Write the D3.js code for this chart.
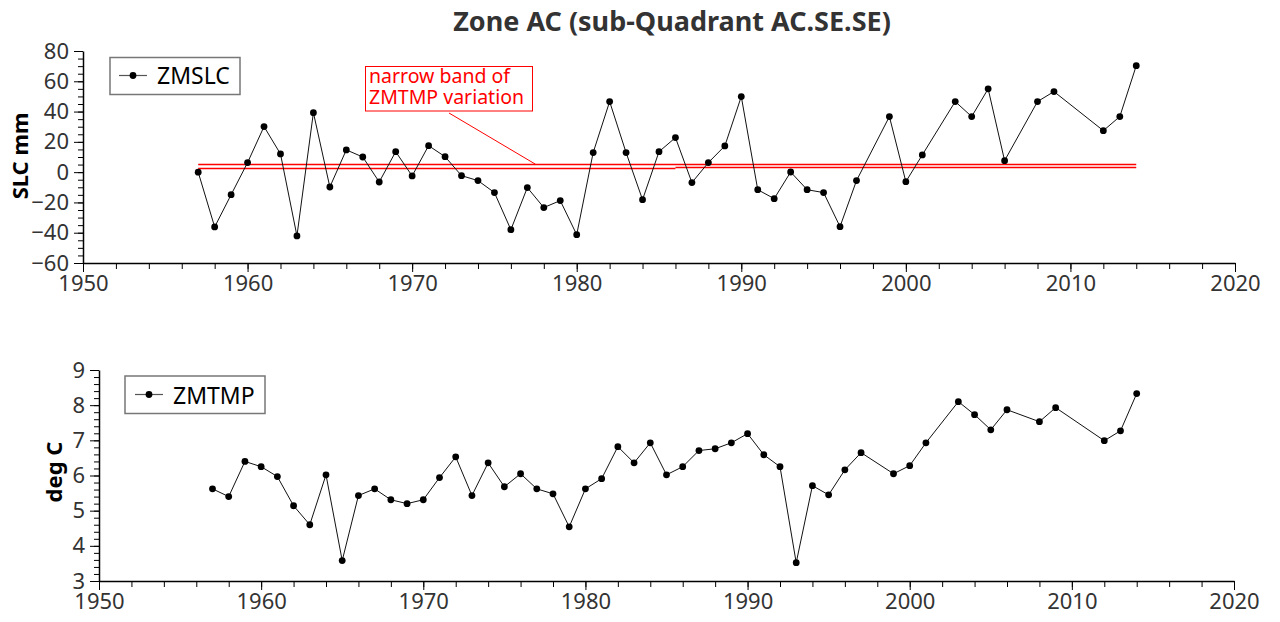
<!DOCTYPE html>
<html><head><meta charset="utf-8">
<script src="https://cdn.jsdelivr.net/npm/d3@7/dist/d3.min.js"></script>
<style>body{margin:0;background:#fff}svg{display:block}</style>
</head><body>
<svg id="chart" width="1280" height="622"></svg>
<script>
const years = [1957,1958,1959,1960,1961,1962,1963,1964,1965,1966,1967,1968,1969,1970,
  1971,1972,1973,1974,1975,1976,1977,1978,1979,1980,1981,1982,1983,1984,1985,1986,1987,1988,1989,1990,
  1991,1992,1993,1994,1995,1996,1997,1999,2000,2001,2003,2004,2005,2006,2008,2009,2012,2013,2014];
const zmslc = [0,-36.2,-14.9,6.3,30.1,12.0,-42.1,39.3,-9.8,14.7,10.0,-6.5,13.5,-2.5,
  17.5,10.2,-2.3,-5.6,-13.5,-38.0,-10.2,-23.4,-18.8,-41.3,12.9,46.6,12.9,-18.2,13.5,22.8,-6.9,6.3,17.3,49.9,
  -11.6,-17.5,0.1,-11.6,-13.5,-36.0,-5.6,36.7,-6.3,11.4,46.6,36.7,55.0,7.6,46.6,53.2,27.4,36.7,70.3];
const zmtmp = [5.62,5.40,6.40,6.25,5.97,5.14,4.60,6.02,3.58,5.43,5.62,5.31,5.20,5.31,
  5.94,6.53,5.43,6.36,5.68,6.05,5.62,5.48,4.54,5.62,5.91,6.82,6.36,6.93,6.02,6.25,6.71,6.76,6.93,7.19,
  6.59,6.25,3.52,5.71,5.45,6.16,6.65,6.05,6.28,6.93,8.10,7.73,7.30,7.87,7.53,7.93,6.99,7.27,8.33];
// red band segments: start year, end year, value in SLC units
const bandStart = [1957, 1957, 1986];
const bandEnd   = [2014, 1986, 2014];
const bandValue = [5.2, 3.0, 3.6];
const xTicks = [1950,1960,1970,1980,1990,2000,2010,2020];
const slcTicks = [-60,-40,-20,0,20,40,60,80];
const tmpTicks = [3,4,5,6,7,8,9];
const titleText = "Zone AC (sub-Quadrant AC.SE.SE)";
const annotLines = ["narrow band of", "ZMTMP variation"];

const svg = d3.select("#chart");
const FONT = "'Noto Sans', 'Open Sans', sans-serif";

svg.append("text").attr("x", 672).attr("y", 31).attr("text-anchor","middle")
  .attr("font-family", FONT).attr("font-weight","bold").attr("font-size", 27)
  .attr("fill","#333").text(titleText);

function panel(cfg){
  const g = svg.append("g");
  const x = d3.scaleLinear().domain([1950,2020]).range(cfg.xr);
  const y = d3.scaleLinear().domain(cfg.yd).range(cfg.yr);
  g.append("g").attr("transform",`translate(0,${cfg.yr[0]})`)
    .call(d3.axisBottom(x).tickValues(d3.range(1950,2021,2)).tickSize(6).tickFormat(""))
    .call(a=>a.select(".domain").remove());
  g.append("g").attr("transform",`translate(${cfg.xr[0]},0)`)
    .call(d3.axisLeft(y).tickValues(cfg.minor).tickSize(5).tickFormat(""))
    .call(a=>a.select(".domain").remove());
  const xa = g.append("g").attr("transform",`translate(0,${cfg.yr[0]})`)
    .call(d3.axisBottom(x).tickValues(xTicks).tickSize(9).tickSizeOuter(0).tickPadding(3).tickFormat(d3.format("d")));
  const ya = g.append("g").attr("transform",`translate(${cfg.xr[0]},0)`)
    .call(d3.axisLeft(y).tickValues(cfg.ticks).tickSize(9).tickSizeOuter(0).tickPadding(5).tickFormat(d3.format("d")));
  [xa, ya].forEach(a=>{
    a.attr("font-size",null).attr("font-family",null);
    a.selectAll("text").attr("font-family",FONT).attr("font-size",22).attr("fill","#333");
    a.select(".domain").attr("stroke","#000").attr("stroke-width",1.5);
  });
  g.selectAll(".tick line").attr("stroke","#000").attr("stroke-width",1);
  g.append("text").attr("transform",`translate(${cfg.lx},${cfg.ly}) rotate(-90)`)
    .attr("text-anchor","middle").attr("dominant-baseline","central")
    .attr("font-family",FONT).attr("font-weight","bold").attr("font-size",22)
    .attr("fill","#000").text(cfg.label);
  return {g,x,y};
}

const pTop = panel({xr:[83,1235], yr:[263,51], yd:[-60,80], ticks:slcTicks,
  minor:d3.range(-60,81,5), label:"SLC mm", lx:19, ly:156});
const pBot = panel({xr:[99,1234], yr:[581,370], yd:[3,9], ticks:tmpTicks,
  minor:d3.range(3,9.01,0.2), label:"deg C", lx:53, ly:472});

pTop.g.selectAll(".band").data(bandValue).join("line")
  .attr("x1",(d,i)=>pTop.x(bandStart[i])).attr("x2",(d,i)=>pTop.x(bandEnd[i]))
  .attr("y1",d=>Math.round(pTop.y(d))+0.5).attr("y2",d=>Math.round(pTop.y(d))+0.5)
  .attr("stroke","#ff0000").attr("stroke-width",1.3);

function series(p, vals){
  const pts = years.map((yr,i)=>[p.x(yr), p.y(vals[i])]);
  p.g.append("path").attr("d", d3.line()(pts)).attr("fill","none")
    .attr("stroke","#111").attr("stroke-width",1);
  p.g.selectAll(".pt").data(pts).join("circle").attr("cx",d=>d[0]).attr("cy",d=>d[1])
    .attr("r",3.4).attr("fill","#000");
}
series(pTop, zmslc);
series(pBot, zmtmp);

const ann = pTop.g.append("g");
ann.append("rect").attr("x",365.5).attr("y",66.5).attr("width",167).attr("height",44.5)
  .attr("fill","#fff").attr("stroke","#ff0000").attr("stroke-width",1);
annotLines.forEach((t,i)=>{
  ann.append("text").attr("x",369).attr("y",82.5+i*21.5).attr("font-family",FONT)
    .attr("font-size",19.5).attr("fill","#ff0000").text(t);
});
ann.append("line").attr("x1",449).attr("y1",113).attr("x2",pTop.x(1977.5)).attr("y2",pTop.y(5.2))
  .attr("stroke","#ff0000").attr("stroke-width",1);

function legend(x,y,w,h,lx1,lx2,ly,tx,ty,label){
  const l = svg.append("g");
  l.append("rect").attr("x",x).attr("y",y).attr("width",w).attr("height",h)
    .attr("fill","#fff").attr("stroke","#777").attr("stroke-width",1.5);
  l.append("line").attr("x1",lx1).attr("x2",lx2).attr("y1",ly).attr("y2",ly)
    .attr("stroke","#555").attr("stroke-width",1.2);
  l.append("circle").attr("cx",(lx1+lx2)/2).attr("cy",ly).attr("r",3.4).attr("fill","#000");
  l.append("text").attr("x",tx).attr("y",ty).attr("font-family",FONT).attr("font-size",23)
    .attr("fill","#000").text(label);
}
legend(110,57.5,130,37,119,147,75.5,157,84,"ZMSLC");
legend(125,376,140,37.5,135,163,394.5,173,403.5,"ZMTMP");
</script>
</body></html>
